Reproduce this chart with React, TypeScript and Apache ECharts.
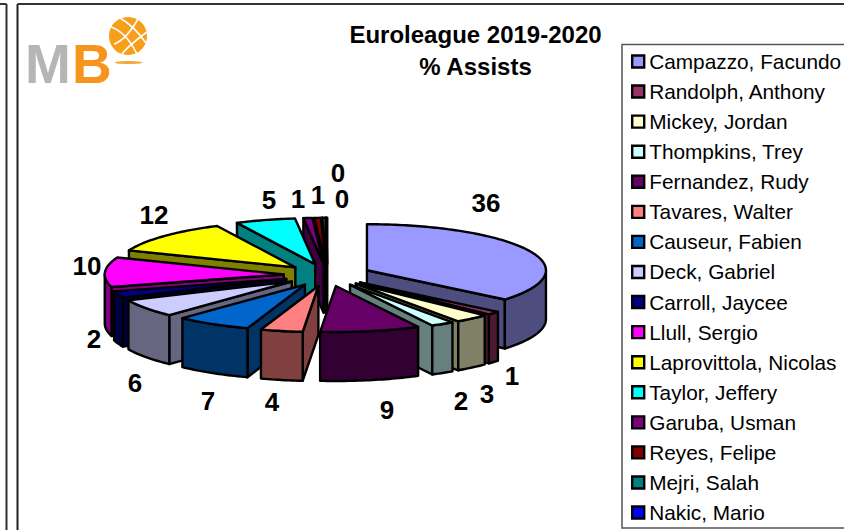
import React, { useEffect, useRef } from "react";
import * as echarts from "echarts";

const PLAYERS = ["Campazzo, Facundo","Randolph, Anthony","Mickey, Jordan","Thompkins, Trey","Fernandez, Rudy","Tavares, Walter","Causeur, Fabien","Deck, Gabriel","Carroll, Jaycee","Llull, Sergio","Laprovittola, Nicolas","Taylor, Jeffery","Garuba, Usman","Reyes, Felipe","Mejri, Salah","Nakic, Mario"];
const ASSIST_SHARE = [36, 1.2, 3.1, 2.1, 9, 3.8, 6.8, 6.3, 2.3, 10.4, 11.8, 5.4, 0.8, 0.6, 0.3, 0.1];
const TOP_COLORS = ["#9999FF","#993366","#FFFFCC","#CCFFFF","#660066","#FF8080","#0066CC","#CCCCFF","#000080","#FF00FF","#FFFF00","#00FFFF","#800080","#800000","#008080","#0000FF"];
const SIDE_COLORS = ["#4D4D80","#4D1A33","#808066","#668080","#330033","#804040","#003366","#666680","#000040","#800080","#808000","#008080","#400040","#400000","#004040","#000080"];
const LABEL_AT: [number, number][] = [[486,203],[512,376],[487,394],[461,401],[387,410],[272,402],[208,401],[135,383],[94,339],[87,266],[154,215],[269,200],[298,199],[318,195],[342,199],[338,173]];

const PIE = { cx: 327.4, cy: 275, rx: 179, ry: 46, height: 49, explode: 43.7 };
const TOTAL = ASSIST_SHARE.reduce((a, b) => a + b, 0);

function renderSlice(index: number) {
  return (_params: any, api: any) => {
    const value = api.value(0);
    const before = ASSIST_SHARE.slice(0, index).reduce((a, b) => a + b, 0);
    const a0 = (before / TOTAL) * Math.PI * 2;
    const a1 = ((before + value) / TOTAL) * Math.PI * 2;
    const mid = (a0 + a1) / 2;
    const ax = PIE.cx + PIE.explode * Math.sin(mid);
    const ay = PIE.cy - (PIE.explode * PIE.ry / PIE.rx) * Math.cos(mid);
    const pt = (t: number, drop = 0): number[] => [ax + PIE.rx * Math.sin(t), ay - PIE.ry * Math.cos(t) + drop];
    const apex = [ax, ay];
    const apexLow = [ax, ay + PIE.height];
    const depth = 10 - 10 * Math.cos(mid);
    const stroke = { stroke: "#000", lineWidth: 2.4, lineJoin: "round" };
    const children: any[] = [];
    const wall = (points: number[][], z: number) =>
      children.push({ type: "polygon", z2: depth + z, shape: { points }, style: { fill: SIDE_COLORS[index], ...stroke } });
    if (Math.sin(a0) < 0) wall([apex, pt(a0), pt(a0, PIE.height), apexLow], 0.1);
    if (Math.sin(a1) > 0) wall([apex, pt(a1), pt(a1, PIE.height), apexLow], 0.1);
    const from = Math.max(a0, Math.PI / 2);
    const to = Math.min(a1, (Math.PI * 3) / 2);
    const arc = (s: number, e: number, drop = 0) => {
      const steps = Math.max(2, Math.ceil(Math.abs(e - s) / 0.02));
      const list: number[][] = [];
      for (let i = 0; i <= steps; i++) list.push(pt(s + ((e - s) * i) / steps, drop));
      return list;
    };
    if (to > from) wall([...arc(from, to), ...arc(to, from, PIE.height)], 0.2);
    children.push({ type: "polygon", z2: depth + 0.3, shape: { points: [apex, ...arc(a0, a1)] }, style: { fill: TOP_COLORS[index], ...stroke } });
    children.push({
      type: "text", z2: 100, x: LABEL_AT[index][0], y: LABEL_AT[index][1],
      style: { text: String(Math.round(value)), fill: "#000", font: "bold 26px 'Liberation Sans'", textAlign: "center", textVerticalAlign: "middle" },
    });
    return { type: "group", children };
  };
}

const seam = (x1: number, y1: number, cx: number, cy: number, x2: number, y2: number) => ({
  type: "bezierCurve",
  shape: { x1, y1, cpx1: cx, cpy1: cy, x2, y2 },
  style: { stroke: "#fff", lineWidth: 1.6, fill: "none" },
});

export default function App() {
  const ref = useRef<HTMLDivElement>(null);
  useEffect(() => {
    document.body.style.margin = "0";
    const chart = echarts.init(ref.current!, undefined, { renderer: "svg" });
    chart.setOption({
      animation: false,
      backgroundColor: "#fff",
      title: {
        text: "Euroleague 2019-2020\n% Assists",
        left: 470.5, top: 13, textAlign: "center",
        textStyle: { fontFamily: "Liberation Sans", fontWeight: "bold", fontSize: 24, lineHeight: 32, color: "#000" },
      },
      legend: {
        orient: "vertical", left: 631, top: 51, padding: 0,
        itemWidth: 12, itemHeight: 12, itemGap: 9.07, icon: "rect", selectedMode: false,
        data: PLAYERS,
        itemStyle: { borderColor: "#000", borderWidth: 2.4 },
        textStyle: { fontFamily: "Liberation Sans", fontSize: 20.8, lineHeight: 21, color: "#000" },
      },
      graphic: [
        { type: "line", shape: { x1: 6.5, y1: 4, x2: 6.5, y2: 530 }, style: { stroke: "#333", lineWidth: 2 } },
        { type: "line", shape: { x1: 0, y1: 4, x2: 6.5, y2: 4 }, style: { stroke: "#333", lineWidth: 2 } },
        { type: "line", shape: { x1: 17.5, y1: 4, x2: 17.5, y2: 530 }, style: { stroke: "#222", lineWidth: 2 } },
        { type: "line", shape: { x1: 17.5, y1: 4, x2: 844, y2: 4 }, style: { stroke: "#333", lineWidth: 2 } },
        { type: "rect", shape: { x: 622, y: 44.5, width: 240, height: 483.5 }, style: { fill: "none", stroke: "#555", lineWidth: 1.5 } },
        { type: "text", x: 25, y: 64, style: { text: "M", fill: "#B5B5B5", font: "bold 55px 'Liberation Sans'", textVerticalAlign: "middle" } },
        { type: "text", x: 72, y: 64, style: { text: "B", fill: "#F7941E", font: "bold 55px 'Liberation Sans'", textVerticalAlign: "middle" } },
        { type: "ellipse", shape: { cx: 128.5, cy: 62.5, rx: 14, ry: 1.6 }, style: { fill: "#F7A83C" } },
        { type: "circle", shape: { cx: 128, cy: 36, r: 19 }, style: { fill: "#F79E1B" } },
        seam(111, 27, 126, 32, 137, 54),
        seam(120, 18, 134, 26, 146, 43),
        seam(114, 44, 126, 40, 138, 19),
        seam(122, 54, 128, 46, 147, 32),
      ],
      series: PLAYERS.map((name, i) => ({
        type: "custom",
        name,
        coordinateSystem: "none",
        renderItem: renderSlice(i),
        itemStyle: { color: TOP_COLORS[i] },
        data: [[ASSIST_SHARE[i]]],
      })),
    });
    return () => chart.dispose();
  }, []);
  return <div ref={ref} style={{ width: 844, height: 530 }} />;
}
